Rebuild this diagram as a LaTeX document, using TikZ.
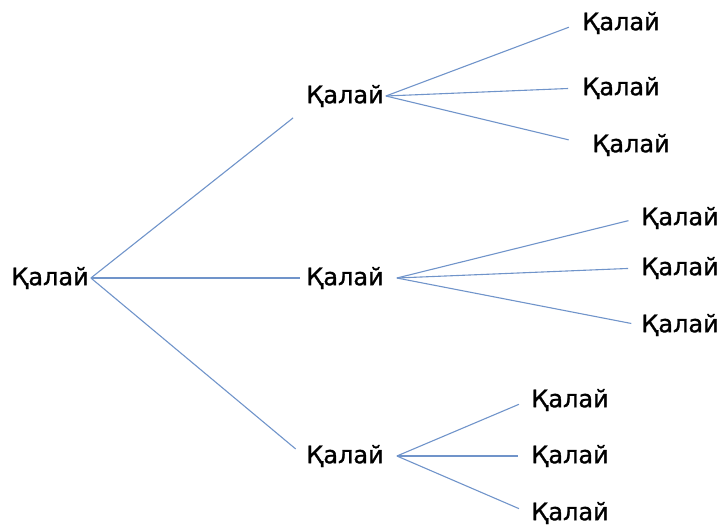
\documentclass[tikz,border=0pt]{standalone}
\usepackage{fontspec}
\setmainfont[FakeBold=1.2]{DejaVu Sans}
\usepackage{tikz}
\definecolor{linkblue}{RGB}{112,148,202}

\tikzset{
  word/.style={font=\fontsize{24}{28}\selectfont, inner sep=2pt},
  link/.style={draw=linkblue, line width=1.1pt},
}

\begin{document}
\begin{tikzpicture}[x=1pt,y=-1pt]

\useasboundingbox (0,0) rectangle (723,525);

% Root
\node[word] (r) at (50,278) {Қалай};     % Root word

% Middle level
\node[word] (m1) at (345,96) {Қалай};    % Upper branch
\node[word] (m2) at (345,278) {Қалай};   % Middle branch
\node[word] (m3) at (345,456) {Қалай};   % Lower branch

% Leaves of the upper branch
\node[word] (a1) at (621,23) {Қалай};
\node[word] (a2) at (621,88) {Қалай};
\node[word] (a3) at (631,145) {Қалай};

% Leaves of the middle branch
\node[word] (b1) at (680,218) {Қалай};
\node[word] (b2) at (680,268) {Қалай};
\node[word] (b3) at (680,325) {Қалай};

% Leaves of the lower branch
\node[word] (c1) at (570,400) {Қалай};
\node[word] (c2) at (570,456) {Қалай};
\node[word] (c3) at (570,513) {Қалай};

% Links from the root
\draw[link, shorten >=14pt] (r.east) -- (m1.south west);
\draw[link, shorten >=4pt] (r.east) -- (m2.west);
\draw[link, shorten >=11pt] (r.east) -- (m3.west);

% Links from the middle level
\draw[link, shorten >=12pt] (m1.east) -- (a1.west);
\draw[link, shorten >=12pt] (m1.east) -- (a2.west);
\draw[link, shorten >=22pt] (m1.east) -- (a3.west);
\draw[link, shorten >=11pt] ([xshift=11pt]m2.east) -- (b1.west);
\draw[link, shorten >=11pt] ([xshift=11pt]m2.east) -- (b2.west);
\draw[link, shorten >=8pt] ([xshift=11pt]m2.east) -- (b3.west);
\draw[link, shorten >=11pt] ([xshift=11pt]m3.east) -- (c1.west);
\draw[link, shorten >=11pt] ([xshift=11pt]m3.east) -- (c2.west);
\draw[link, shorten >=11pt] ([xshift=11pt]m3.east) -- (c3.west);

\end{tikzpicture}
\end{document}
